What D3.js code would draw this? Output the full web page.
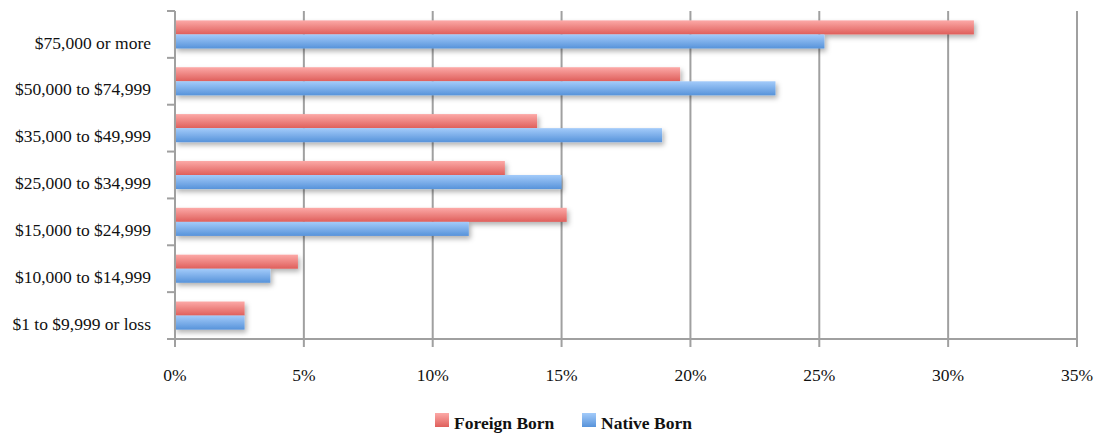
<!DOCTYPE html>
<html>
<head>
<meta charset="utf-8">
<script src="https://cdn.jsdelivr.net/npm/d3@7.9.0/dist/d3.min.js"></script>
<style>
  body { margin: 0; background: #fff; }
  text { font-family: "Liberation Serif", "Times New Roman", serif; fill: #111; }
</style>
</head>
<body>
<svg id="chart" width="1096" height="434"></svg>
<script>
// Data (percent of households)
const categories = [
    '$75,000 or more',
    '$50,000 to $74,999',
    '$35,000 to $49,999',
    '$25,000 to $34,999',
    '$15,000 to $24,999',
    '$10,000 to $14,999',
    '$1 to $9,999 or loss',
];
const seriesNames = ['Foreign Born', 'Native Born'];
const foreignBorn = [31.0, 19.6, 14.05, 12.8, 15.2, 4.77, 2.7];
const nativeBorn = [25.2, 23.3, 18.9, 15.0, 11.4, 3.7, 2.7];
const xTicks = [0, 5, 10, 15, 20, 25, 30, 35];

const svg = d3.select('#chart');
const margin = { top: 11, left: 175, right: 19, bottom: 95 };
const W = 1096, H = 434;
const plotW = W - margin.left - margin.right;
const plotH = H - margin.top - margin.bottom;

const x = d3.scaleLinear().domain([0, 35]).range([0, plotW]);
const y = d3.scaleBand().domain(categories).range([0, plotH]).paddingInner(0.4).paddingOuter(0.2);
const sub = d3.scaleBand().domain(seriesNames).range([0, y.bandwidth()]);

/* ---- defs: gradients + shadow ---- */
const defs = svg.append('defs');
const grads = [
    { id: 'gFB', top: '#fca9a7', bot: '#df5f5b' },
    { id: 'gNB', top: '#a3cbfa', bot: '#5793da' },
];
grads.forEach(g => {
    const lg = defs.append('linearGradient').attr('id', g.id)
        .attr('x1', 0).attr('y1', 0).attr('x2', 0).attr('y2', 1);
    lg.append('stop').attr('offset', '0%').attr('stop-color', g.top);
    lg.append('stop').attr('offset', '100%').attr('stop-color', g.bot);
});
defs.append('filter').attr('id', 'shadow')
    .attr('x', '-5%').attr('y', '-20%').attr('width', '115%').attr('height', '180%')
    .append('feDropShadow')
    .attr('dx', 2).attr('dy', 3).attr('stdDeviation', 2.5)
    .attr('flood-color', '#000').attr('flood-opacity', 0.3);

const g = svg.append('g').attr('transform', `translate(${margin.left},${margin.top})`);

// Vertical gridlines (extend below the axis as tick marks)
g.selectAll('line.grid')
    .data(xTicks)
    .join('line')
    .attr('class', 'grid')
    .attr('x1', d => x(d)).attr('x2', d => x(d))
    .attr('y1', 0).attr('y2', plotH + 8)
    .attr('stroke', '#a0a0a0').attr('stroke-width', 2);

// Y tick marks at band boundaries
const bounds = d3.range(categories.length + 1).map(i => i * y.step());
g.selectAll('line.ytick')
    .data(bounds)
    .join('line')
    .attr('class', 'ytick')
    .attr('x1', -8).attr('x2', 0)
    .attr('y1', d => d).attr('y2', d => d)
    .attr('stroke', '#a0a0a0').attr('stroke-width', 2);

// Bottom axis line
g.append('line')
    .attr('x1', 0).attr('x2', plotW)
    .attr('y1', plotH).attr('y2', plotH)
    .attr('stroke', '#a0a0a0').attr('stroke-width', 2);

// Bars
const rows = categories.map((c, i) => ({ cat: c, vals: [foreignBorn[i], nativeBorn[i]] }));
const barG = g.append('g').attr('filter', 'url(#shadow)');
rows.forEach(r => {
    r.vals.forEach((v, j) => {
        barG.append('rect')
            .attr('x', x(0))
            .attr('y', y(r.cat) + sub(seriesNames[j]))
            .attr('width', x(v) - x(0))
            .attr('height', sub.bandwidth())
            .attr('fill', `url(#${grads[j].id})`);
    });
});

// Left axis line (drawn over bars)
g.append('line')
    .attr('x1', 0).attr('x2', 0)
    .attr('y1', 0).attr('y2', plotH + 8)
    .attr('stroke', '#a0a0a0').attr('stroke-width', 2);

// Category labels (sit a little below band centre, as in the original)
g.selectAll('text.ylab')
    .data(categories)
    .join('text')
    .attr('class', 'ylab')
    .attr('x', -24)
    .attr('y', d => y(d) + y.bandwidth() / 2 + 8)
    .attr('dy', '0.35em')
    .attr('text-anchor', 'end')
    .style('font-size', '17.5px')
    .text(d => d);

// X tick labels
g.selectAll('text.xlab')
    .data(xTicks)
    .join('text')
    .attr('class', 'xlab')
    .attr('x', d => x(d))
    .attr('y', plotH + 36)
    .attr('dy', '0.35em')
    .attr('text-anchor', 'middle')
    .style('font-size', '17.5px')
    .text(d => d + '%');

// Legend
const legend = svg.append('g').attr('transform', 'translate(435,413)');
const legendX = [0, 147];
seriesNames.forEach((name, j) => {
    const lg = legend.append('g').attr('transform', `translate(${legendX[j]},0)`);
    lg.append('rect').attr('width', 14).attr('height', 14).attr('fill', `url(#${grads[j].id})`);
    lg.append('text')
        .attr('x', 19).attr('y', 9).attr('dy', '0.38em')
        .style('font-size', '17.5px').style('font-weight', 'bold')
        .text(name);
});
</script>
</body>
</html>
